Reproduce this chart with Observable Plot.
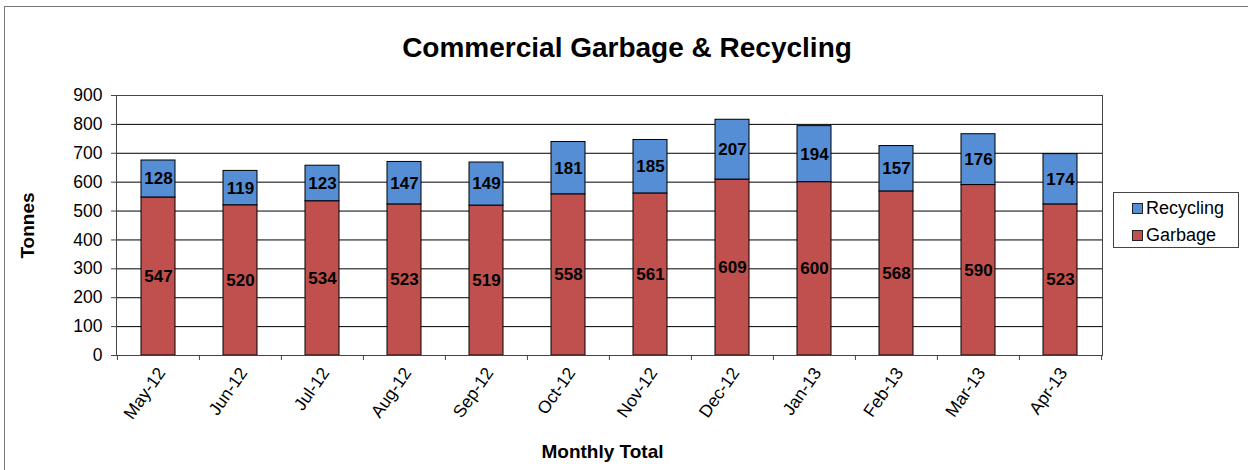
<!DOCTYPE html>
<html>
<head>
<meta charset="utf-8">
<script src="https://cdn.jsdelivr.net/npm/d3@7"></script>
<script src="https://cdn.jsdelivr.net/npm/@observablehq/plot@0.6"></script>
<style>
  html, body { margin: 0; padding: 0; background: #fff; overflow: hidden; }
  #wrap { position: relative; width: 1248px; height: 470px; font-family: Arial, "Liberation Sans", sans-serif; }
  #border { position: absolute; left: 4px; top: 6px; width: 1300px; height: 600px; border-left: 1.5px solid #777; border-top: 1.5px solid #777; }
  #title { position: absolute; left: 0; top: 32px; width: 1254px; text-align: center; font-weight: bold; font-size: 28px; color: #000; }
  #chart { position: absolute; left: 0; top: 0; }
  #legend { position: absolute; left: 1113px; top: 192px; width: 126px; height: 56px; border: 1px solid #444; background: #fff; box-sizing: border-box; font-size: 18px; }
  .item { position: absolute; left: 18px; display: flex; align-items: center; line-height: 1; }
  .sw { width: 9px; height: 9px; border: 1px solid #222; margin-right: 3px; }
</style>
</head>
<body>
<div id="wrap">
  <div id="border"></div>
  <div id="title">Commercial Garbage &amp; Recycling</div>
  <div id="chart"></div>
  <div id="legend"></div>
</div>
<script>
const months = ["May-12","Jun-12","Jul-12","Aug-12","Sep-12","Oct-12","Nov-12","Dec-12","Jan-13","Feb-13","Mar-13","Apr-13"];
const garbage = [547, 520, 534, 523, 519, 558, 561, 609, 600, 568, 590, 523];
const recycling = [128, 119, 123, 147, 149, 181, 185, 207, 194, 157, 176, 174];
const seriesNames = ["Garbage", "Recycling"];
const seriesColors = ["#C0504D", "#558ED5"];
const yTicks = [0,100,200,300,400,500,600,700,800,900];

const data = [
  ...months.map((m, i) => ({month: m, series: "Garbage", value: garbage[i]})),
  ...months.map((m, i) => ({month: m, series: "Recycling", value: recycling[i]}))
];

const step = (1248 - 116 - 146) / months.length;

const chart = Plot.plot({
  width: 1248,
  height: 470,
  marginLeft: 116,
  marginRight: 146,
  marginTop: 95,
  marginBottom: 115,
  style: {fontFamily: "Arial, 'Liberation Sans', sans-serif", fontSize: "17px", color: "#000", background: "transparent"},
  x: {domain: months, paddingInner: 0.586, paddingOuter: 0.293, label: null},
  y: {domain: [0, 900], label: null},
  color: {domain: seriesNames, range: seriesColors},
  marks: [
    Plot.ruleY(yTicks, {stroke: "#000", strokeWidth: 1}),
    Plot.barY(data, {x: "month", y: "value", z: "series", fill: "series", stroke: "#000", strokeWidth: 1}),
    Plot.text(data, Plot.stackY({x: "month", y: "value", z: "series", text: "value", fontWeight: "bold", fontSize: 17, fill: "#000"})),
    Plot.frame({stroke: "#444", strokeWidth: 1}),
    Plot.ruleX(months, {x: d => d, dx: -step / 2, insetTop: 260, insetBottom: -5, stroke: "#444"}),
    Plot.ruleX(months.slice(-1), {x: d => d, dx: step / 2, insetTop: 260, insetBottom: -5, stroke: "#444"}),
    Plot.axisY(yTicks, {tickSize: 5, tickPadding: 9, fontSize: 17.5, label: "Tonnes", labelAnchor: "center", labelArrow: "none", labelOffset: 96, stroke: "#444"}),
    Plot.axisX({tickSize: 0, tickRotate: -55, tickPadding: 14, dx: 3, fontSize: 17.5, label: "Monthly Total", labelAnchor: "center", labelArrow: "none", labelOffset: 102})
  ]
});

// bold axis titles
chart.querySelectorAll("g[aria-label='y-axis label'] text, g[aria-label='x-axis label'] text").forEach(t => {
  t.setAttribute("font-weight", "bold");
  t.setAttribute("font-size", "19");
});
const xl = chart.querySelector("g[aria-label='x-axis label']");
if (xl) xl.setAttribute("transform", ((xl.getAttribute("transform") || "") + " translate(-7,0)").trim());
document.getElementById("chart").appendChild(chart);

const legend = document.getElementById("legend");
[["Recycling", seriesColors[1], 6], ["Garbage", seriesColors[0], 33]].forEach(([name, col, top]) => {
  const it = document.createElement("div");
  it.className = "item";
  it.style.top = top + "px";
  const sw = document.createElement("span");
  sw.className = "sw";
  sw.style.background = col;
  it.appendChild(sw);
  it.appendChild(document.createTextNode(name));
  legend.appendChild(it);
});
</script>
</body>
</html>
